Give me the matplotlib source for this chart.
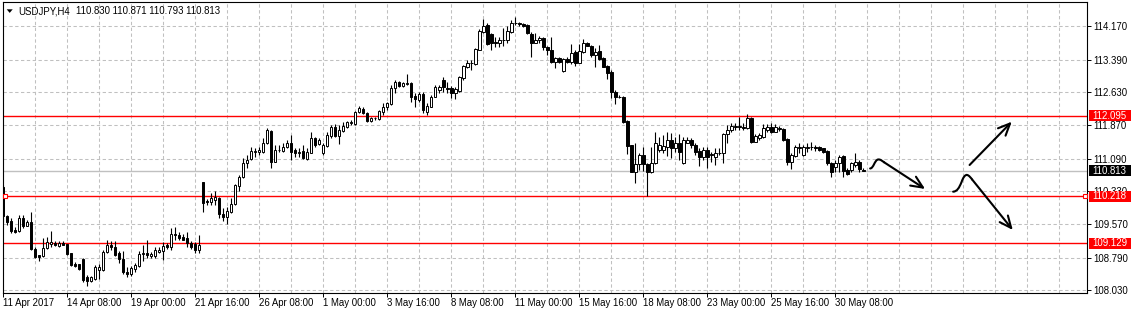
import numpy as np
import matplotlib
matplotlib.use("Agg")
import matplotlib.pyplot as plt
from matplotlib.path import Path
from matplotlib.patches import PathPatch, Rectangle, Polygon
from matplotlib.transforms import blended_transform_factory

plt.rcParams['font.family'] = ['Liberation Sans', 'DejaVu Sans']

# ---------------- data (USDJPY, H4) ----------------
opens = [110.43, 109.76, 109.63, 109.43, 109.42, 109.70, 109.53, 109.61, 109.00, 108.84,
         108.82, 109.01, 109.11, 109.14, 109.06, 109.14, 109.10, 108.89, 108.63, 108.63,
         108.76, 108.33, 108.25, 108.30, 108.49, 108.49, 108.91, 109.08, 109.04, 108.89,
         108.76, 108.45, 108.40, 108.52, 108.60, 108.87, 108.89, 108.83, 108.83, 108.93,
         108.95, 109.08, 109.04, 109.33, 109.31, 109.27, 109.24, 109.13, 109.10, 108.97,
         110.55, 110.11, 110.08, 110.13, 110.17, 109.80, 109.74, 109.86, 110.03, 110.46,
         110.66, 111.00, 111.08, 111.25, 111.25, 111.25, 111.45, 111.73, 111.02, 111.29,
         111.27, 111.36, 111.45, 111.29, 111.23, 111.28, 111.08, 111.23, 111.57, 111.43,
         111.23, 111.39, 111.62, 111.83, 111.62, 111.74, 111.83, 111.92, 111.89, 112.17,
         112.25, 112.16, 111.97, 112.03, 112.01, 112.18, 112.29, 112.36, 112.73, 112.88,
         112.77, 112.83, 112.86, 112.55, 112.46, 112.60, 112.18, 112.30, 112.53, 112.69,
         112.92, 112.73, 112.73, 112.61, 112.67, 112.97, 113.23, 113.31, 113.29, 113.63,
         114.04, 114.20, 113.99, 113.80, 113.79, 113.84, 113.84, 114.04, 114.25, 114.24,
         114.22, 114.20, 113.99, 113.79, 113.84, 113.89, 113.68, 113.63, 113.35, 113.43,
         113.14, 113.40, 113.33, 113.58, 113.32, 113.58, 113.77, 113.71, 113.50, 113.60,
         113.43, 113.25, 113.11, 112.65, 112.53, 112.53, 111.97, 111.41, 110.79, 110.97,
         111.18, 110.97, 110.77, 110.98, 111.30, 111.29, 111.37, 111.53, 111.33, 111.45,
         110.98, 111.46, 111.53, 111.42, 111.28, 111.14, 111.29, 111.18, 111.14, 111.22,
         111.23, 111.66, 111.76, 111.83, 111.83, 111.83, 111.81, 112.04, 111.48, 111.57,
         111.60, 111.76, 111.83, 111.72, 111.78, 111.78, 111.55, 111.02, 111.16, 111.34,
         111.18, 111.35, 111.36, 111.36, 111.36, 111.33, 111.28, 110.98, 110.89, 110.98,
         111.15, 110.83, 110.83, 110.94, 111.02, 110.830]
highs = [110.48, 109.78, 109.70, 109.51, 109.78, 109.78, 109.66, 109.85, 109.04, 108.86,
         109.24, 109.27, 109.40, 109.17, 109.17, 109.17, 109.11, 108.90, 108.69, 108.65,
         108.77, 108.38, 108.36, 108.61, 108.64, 108.96, 109.21, 109.18, 109.17, 108.95,
         108.95, 108.56, 108.59, 108.66, 108.95, 109.08, 109.20, 108.92, 109.04, 109.04,
         109.16, 109.12, 109.48, 109.49, 109.39, 109.35, 109.38, 109.18, 109.16, 109.31,
         110.55, 110.15, 110.29, 110.34, 110.19, 109.94, 109.97, 110.17, 110.50, 110.71,
         111.10, 111.18, 111.36, 111.33, 111.37, 111.57, 111.80, 111.76, 111.41, 111.41,
         111.45, 111.53, 111.64, 111.35, 111.33, 111.41, 111.33, 111.72, 111.60, 111.57,
         111.46, 111.71, 111.87, 111.90, 111.87, 111.95, 111.97, 111.99, 112.21, 112.31,
         112.30, 112.18, 112.07, 112.07, 112.22, 112.39, 112.42, 112.80, 112.92, 112.90,
         112.88, 113.06, 112.88, 112.61, 112.65, 112.65, 112.39, 112.57, 112.80, 112.80,
         113.00, 112.88, 112.77, 112.75, 113.01, 113.27, 113.39, 113.39, 113.66, 114.10,
         114.33, 114.25, 114.02, 113.93, 113.91, 114.12, 114.18, 114.32, 114.39, 114.28,
         114.24, 114.22, 114.04, 114.02, 113.95, 113.93, 113.71, 113.91, 113.45, 113.46,
         113.43, 113.45, 113.76, 113.62, 113.76, 113.87, 113.81, 113.73, 113.66, 113.73,
         113.46, 113.27, 113.15, 112.69, 112.57, 112.55, 111.99, 111.42, 111.45, 111.22,
         111.37, 110.98, 111.36, 111.72, 111.59, 111.64, 111.72, 111.68, 111.60, 111.66,
         111.59, 111.60, 111.57, 111.45, 111.33, 111.36, 111.36, 111.25, 111.33, 111.33,
         111.68, 111.87, 111.91, 111.91, 112.07, 111.91, 112.12, 112.07, 111.66, 111.68,
         111.89, 111.89, 111.91, 111.89, 111.86, 111.80, 111.57, 111.22, 111.42, 111.45,
         111.41, 111.45, 111.49, 111.41, 111.39, 111.35, 111.29, 111.01, 111.06, 111.18,
         111.18, 110.87, 111.02, 111.22, 111.06, 110.871]
lows = [109.62, 109.55, 109.36, 109.36, 109.38, 109.47, 109.52, 108.96, 108.79, 108.71,
        108.80, 109.00, 109.04, 109.06, 109.04, 109.08, 108.85, 108.59, 108.56, 108.51,
        108.23, 108.13, 108.23, 108.27, 108.29, 108.48, 108.89, 108.96, 108.82, 108.66,
        108.41, 108.34, 108.36, 108.46, 108.57, 108.70, 108.77, 108.77, 108.77, 108.89,
        108.73, 109.00, 108.97, 109.20, 109.21, 109.20, 109.04, 109.00, 108.90, 108.89,
        109.86, 110.01, 110.01, 110.01, 109.70, 109.65, 109.57, 109.82, 110.01, 110.34,
        110.63, 110.87, 111.06, 111.14, 111.18, 111.22, 111.43, 110.87, 111.01, 111.25,
        111.25, 111.33, 111.06, 111.14, 111.14, 111.08, 111.06, 111.22, 111.36, 111.41,
        111.18, 111.36, 111.57, 111.60, 111.43, 111.72, 111.80, 111.87, 111.87, 112.15,
        112.12, 111.95, 111.95, 111.99, 111.99, 112.11, 112.22, 112.34, 112.61, 112.76,
        112.75, 112.80, 112.42, 112.30, 112.42, 112.15, 112.11, 112.29, 112.52, 112.61,
        112.65, 112.61, 112.50, 112.47, 112.65, 112.92, 113.19, 113.15, 113.27, 113.62,
        114.02, 113.73, 113.63, 113.68, 113.68, 113.70, 113.77, 114.02, 114.20, 114.18,
        114.16, 113.99, 113.46, 113.77, 113.77, 113.63, 113.50, 113.31, 113.19, 113.31,
        113.11, 113.31, 113.29, 113.25, 113.31, 113.56, 113.70, 113.46, 113.23, 113.39,
        113.22, 112.94, 112.50, 112.36, 112.50, 111.93, 111.20, 110.77, 110.53, 110.83,
        110.81, 110.22, 110.75, 110.97, 111.25, 111.23, 111.15, 111.10, 111.25, 111.06,
        110.97, 111.45, 111.33, 111.18, 110.92, 111.06, 110.87, 111.02, 110.94, 111.18,
        110.98, 111.45, 111.72, 111.76, 111.76, 111.76, 111.78, 111.45, 111.47, 111.53,
        111.58, 111.72, 111.68, 111.70, 111.73, 111.50, 110.94, 110.85, 111.14, 111.22,
        111.15, 111.25, 111.29, 111.27, 111.27, 111.23, 110.94, 110.66, 110.78, 110.77,
        110.67, 110.70, 110.78, 110.90, 110.78, 110.793]
closes = [109.76, 109.62, 109.42, 109.38, 109.70, 109.53, 109.61, 109.00, 108.80, 108.80,
          109.01, 109.15, 109.15, 109.09, 109.14, 109.09, 108.87, 108.62, 108.59, 108.53,
          108.27, 108.25, 108.33, 108.57, 108.57, 108.91, 109.08, 109.04, 108.85, 108.76,
          108.45, 108.40, 108.54, 108.62, 108.87, 108.89, 108.85, 108.87, 108.97, 108.97,
          109.06, 109.04, 109.33, 109.31, 109.25, 109.21, 109.12, 109.03, 108.97, 109.08,
          110.05, 110.08, 110.17, 110.19, 109.80, 109.74, 109.88, 110.04, 110.48, 110.67,
          111.00, 111.06, 111.28, 111.28, 111.29, 111.45, 111.76, 111.02, 111.29, 111.30,
          111.37, 111.45, 111.25, 111.23, 111.25, 111.10, 111.25, 111.57, 111.41, 111.53,
          111.41, 111.63, 111.83, 111.62, 111.76, 111.85, 111.94, 111.94, 112.18, 112.28,
          112.15, 111.97, 112.04, 112.04, 112.20, 112.30, 112.38, 112.74, 112.88, 112.78,
          112.84, 112.85, 112.53, 112.48, 112.60, 112.22, 112.31, 112.52, 112.75, 112.75,
          112.75, 112.72, 112.61, 112.71, 113.00, 113.25, 113.31, 113.32, 113.64, 114.07,
          114.18, 113.76, 113.77, 113.79, 113.85, 113.85, 114.06, 114.25, 114.24, 114.22,
          114.18, 114.01, 113.79, 113.85, 113.89, 113.68, 113.62, 113.35, 113.43, 113.33,
          113.40, 113.35, 113.56, 113.31, 113.60, 113.77, 113.71, 113.50, 113.58, 113.41,
          113.23, 113.08, 112.63, 112.53, 112.52, 111.95, 111.39, 110.79, 110.97, 111.18,
          110.97, 110.77, 110.98, 111.46, 111.41, 111.39, 111.53, 111.33, 111.45, 111.25,
          111.53, 111.53, 111.41, 111.25, 111.14, 111.29, 111.14, 111.19, 111.22, 111.23,
          111.66, 111.76, 111.85, 111.85, 111.85, 111.80, 112.03, 111.47, 111.62, 111.64,
          111.81, 111.83, 111.72, 111.83, 111.80, 111.53, 111.01, 111.18, 111.37, 111.36,
          111.37, 111.36, 111.37, 111.35, 111.29, 111.25, 110.98, 110.79, 110.98, 111.14,
          110.81, 110.73, 110.98, 111.02, 110.84, 110.813]

time_labels = ["11 Apr 2017", "14 Apr 08:00", "19 Apr 00:00", "21 Apr 16:00", "26 Apr 08:00",
               "1 May 00:00", "3 May 16:00", "8 May 08:00", "11 May 00:00", "15 May 16:00",
               "18 May 08:00", "23 May 00:00", "25 May 16:00", "30 May 08:00"]
bars_per_label = 16
bars_per_grid = 8
price_ticks = [114.170, 113.390, 112.630, 111.870, 111.090, 110.330, 109.570, 108.790, 108.030]
levels = [112.095, 110.218, 109.129]
last_price = 110.813
title_symbol = "USDJPY,H4"
title_quote = "110.830 110.871 110.793 110.813"

# hand-drawn forecast arrows (bar index, price)
arrow1_curve = [(216.68, 110.863), (217.55, 110.863), (217.80, 111.060), (218.68, 111.072),
                (219.30, 111.079), (219.68, 111.037), (220.18, 111.007)]
arrow1_tip = (230.43, 110.386)
arrow2_curve = [(237.43, 110.323), (238.43, 110.328), (238.93, 110.409), (239.55, 110.549),
                (239.93, 110.653), (240.43, 110.723), (240.93, 110.712),
                (241.43, 110.700), (241.80, 110.653), (242.18, 110.607)]
arrow2_tip = (252.35, 109.432)
arrow3_start = (241.55, 110.944)
arrow3_tip = (252.10, 111.951)

# ---------------- figure ----------------
W, H = 1131, 314
fig = plt.figure(figsize=(W / 100, H / 100), dpi=100)
fig.patch.set_facecolor('white')
ax_l, ax_r, ax_t, ax_b = 3, 1087, 1.7, 292.5
ax = fig.add_axes([ax_l / W, (H - ax_b) / H, (ax_r - ax_l) / W, (ax_b - ax_t) / H])
ax.set_facecolor('white')

O = np.array(opens); Hh = np.array(highs); L = np.array(lows); C = np.array(closes)
n = len(O)
x = np.arange(n)

ax.set_xlim(-0.075, 270.9)
ax.set_ylim(107.978, 114.742)

grid_kw = dict(color='#c0c0c0', lw=0.75, ls=(0, (3.2, 2.4)), zorder=1)
for g in range(0, 271, bars_per_grid):
    ax.axvline(g, **grid_kw)
for p in price_ticks:
    ax.axhline(p, **grid_kw)

ax.axhline(last_price, color='#c0c0c0', lw=1.0, zorder=1.6)
for lv in levels:
    ax.axhline(lv, color='#ff0000', lw=1.0, zorder=1.7)

bull = C >= O
ax.vlines(x, L, Hh, color='black', lw=0.8, zorder=3)
ax.bar(x, np.abs(C - O), bottom=np.minimum(O, C), width=0.58,
       color=np.where(bull, 'white', 'black'), edgecolor='black', linewidth=0.7, zorder=4)

# selection markers on the 110.218 line
ax.plot([0.43, 270.5], [levels[1], levels[1]], 's', ms=3.3, mfc='white', mec='#ff0000',
        mew=0.8, clip_on=False, zorder=6)

# hand-drawn arrows
lw_arrow = 1.5
codes1 = [Path.MOVETO] + [Path.CURVE4] * 6
ax.add_patch(PathPatch(Path(arrow1_curve, codes1), fill=False, lw=lw_arrow, ec='black',
                       capstyle='round', joinstyle='round', zorder=7))
codes2 = [Path.MOVETO] + [Path.CURVE4] * 9
ax.add_patch(PathPatch(Path(arrow2_curve, codes2), fill=False, lw=lw_arrow, ec='black',
                       capstyle='round', joinstyle='round', zorder=7))
aprops = dict(arrowstyle='->,head_length=0.85,head_width=0.38', lw=lw_arrow, color='black',
              shrinkA=0, shrinkB=0, mutation_scale=10, capstyle='round', joinstyle='round')
ax.annotate('', xy=arrow1_tip, xytext=arrow1_curve[-1], arrowprops=aprops, zorder=7)
ax.annotate('', xy=arrow2_tip, xytext=arrow2_curve[-1], arrowprops=aprops, zorder=7)
ax.annotate('', xy=arrow3_tip, xytext=arrow3_start, arrowprops=aprops, zorder=7)

# axes / ticks
for s in ax.spines.values():
    s.set_color('black'); s.set_linewidth(0.8)
ax.yaxis.tick_right()
ax.set_yticks(price_ticks)
ax.set_yticklabels([f"{p:.3f}" for p in price_ticks])
ax.tick_params(axis='y', direction='out', length=2.6, width=0.7, pad=1.8,
               labelsize=6.9, colors='black')
xt = list(range(0, bars_per_label * len(time_labels), bars_per_label))
ax.set_xticks(xt)
ax.set_xticklabels(time_labels, ha='left')
ax.tick_params(axis='x', direction='out', length=2.6, width=0.7, pad=1.6,
               labelsize=6.9, colors='black')

# price boxes on the right scale
tr = blended_transform_factory(ax.transAxes, ax.transData)
box_h = 11 * (114.742 - 107.978) / (ax_b - ax_t)
x0 = 1 + 1.5 / (ax_r - ax_l)
xtxt = 1 + 5.6 / (ax_r - ax_l)
for val, col in [(levels[0], '#ff0000'), (last_price, '#000000'),
                 (levels[1], '#ff0000'), (levels[2], '#ff0000')]:
    ax.add_patch(Rectangle((x0, val - box_h / 2), 0.05, box_h, transform=tr, fc=col,
                           ec='none', clip_on=False, zorder=8))
    ax.text(xtxt, val, f"{val:.3f}", transform=tr, color='white', fontsize=6.9,
            ha='left', va='center', clip_on=False, zorder=9)

# title with dropdown triangle
tri = np.array([[6.7, 9.3], [12.7, 9.3], [9.7, 12.9]])
fig.patches.append(Polygon(np.column_stack([tri[:, 0] / W, 1 - tri[:, 1] / H]),
                           closed=True, transform=fig.transFigure, fc='black', ec='none'))
fig.text(18 / W, 1 - 11 / H, title_symbol, fontsize=6.9, ha='left', va='center', color='black')
fig.text(76 / W, 1 - 11 / H, title_quote, fontsize=6.9, ha='left', va='center', color='black')

fig.savefig('out.png', dpi=100)
